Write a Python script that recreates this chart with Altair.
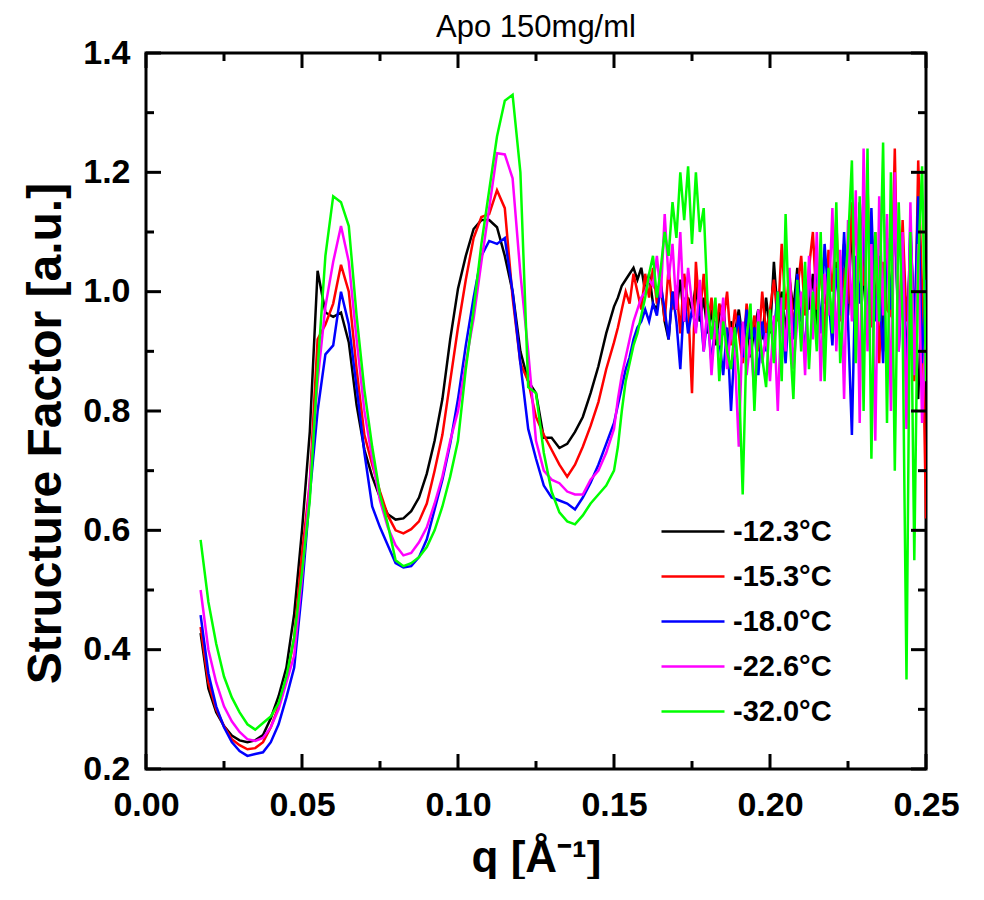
import altair as alt
import pandas as pd

chart_title = "Apo 150mg/ml"
x_title = "q [Å⁻¹]"
y_title = "Structure Factor [a.u.]"
series_names = ["-12.3°C", "-15.3°C", "-18.0°C", "-22.6°C", "-32.0°C"]
series_colors = ["#000000", "#FF0000", "#0000FF", "#FF00FF", "#00FF00"]

# sampling grid of q (coarse part, then finer part where the data get noisy)
q_coarse = [round(0.0175 + 0.0025 * i, 5) for i in range(54)]
q_fine = [round(0.15125 + 0.00125 * i, 5) for i in range(80)]
q_values = q_coarse + q_fine

s_m123 = [
    0.428, 0.335, 0.295, 0.272, 0.256, 0.248, 0.245, 0.248, 0.257, 0.285,
    0.322, 0.37, 0.46, 0.60, 0.765, 1.035, 0.965, 0.958, 0.965, 0.915,
    0.81, 0.735, 0.69, 0.655, 0.627, 0.618, 0.62, 0.632, 0.655, 0.695,
    0.75, 0.82, 0.92, 1.005, 1.06, 1.105, 1.12, 1.12, 1.108, 1.06,
    1.0, 0.90, 0.85, 0.83, 0.755, 0.755, 0.738, 0.745, 0.765, 0.79,
    0.83, 0.875, 0.93, 0.975,
    0.99, 1.01, 1.02, 1.03, 1.04, 1.02, 1.04, 1.0, 1.03, 0.98,
    0.97, 1.01, 0.95, 0.92, 1.0, 0.97, 1.02, 0.95, 0.99, 0.97,
    1.01, 0.95, 0.99, 0.93, 0.97, 0.91, 0.96, 0.98, 0.90, 0.95,
    0.93, 0.97, 0.92, 0.96, 0.89, 0.94, 0.97, 0.92, 0.99, 0.93,
    1.05, 0.96, 1.0, 0.93, 1.02, 0.97, 1.04, 0.95, 1.01, 0.97,
    1.03, 0.94, 1.06, 0.98, 1.02, 0.93, 1.05, 1.0, 1.08, 0.96,
    1.12, 0.95, 1.15, 1.02, 0.93, 1.1, 0.98, 1.06, 0.9, 1.08,
    0.98, 1.14, 0.92, 1.05, 0.86, 1.1, 0.95, 0.82, 1.0, 0.93,
]
s_m153 = [
    0.438, 0.345, 0.30, 0.272, 0.25, 0.24, 0.233, 0.235, 0.245, 0.27,
    0.305, 0.35, 0.42, 0.56, 0.68, 0.92, 0.945, 0.98, 1.045, 1.0,
    0.87, 0.76, 0.71, 0.665, 0.625, 0.60, 0.595, 0.602, 0.615, 0.645,
    0.70, 0.76, 0.85, 0.94, 1.02, 1.09, 1.125, 1.13, 1.17, 1.14,
    0.99, 0.88, 0.85, 0.79, 0.76, 0.735, 0.71, 0.69, 0.71, 0.74,
    0.775, 0.815, 0.87, 0.915,
    0.94, 0.97, 1.0, 0.98, 1.03, 1.0, 0.97, 1.03, 0.99, 1.04,
    0.98, 1.02, 0.95, 1.04, 0.97, 1.01, 0.93, 1.03, 0.98, 0.83,
    1.05, 0.96, 1.03, 0.94, 0.99, 0.92, 0.98, 0.95, 1.0, 0.91,
    0.97, 0.93, 0.88, 0.98, 0.92, 0.96, 0.9, 1.0, 0.93, 0.97,
    1.02, 0.95, 1.08, 0.97, 1.03, 0.94, 1.0, 1.06, 0.96, 1.04,
    1.1, 0.97, 1.05, 0.92, 1.07, 1.0, 1.12, 0.95, 1.04, 0.98,
    1.15, 0.93, 1.08, 1.01, 1.18, 0.94, 1.1, 0.88, 1.05, 0.97,
    0.96, 1.24, 0.9, 1.12, 0.95, 1.05, 0.85, 1.22, 1.0, 0.62,
]
s_m180 = [
    0.458, 0.36, 0.305, 0.27, 0.245, 0.23, 0.222, 0.225, 0.228, 0.245,
    0.275, 0.32, 0.37, 0.50, 0.66, 0.80, 0.895, 0.91, 1.0, 0.945,
    0.84, 0.73, 0.64, 0.605, 0.575, 0.545, 0.538, 0.54, 0.555, 0.585,
    0.635, 0.685, 0.745, 0.82, 0.91, 0.99, 1.06, 1.085, 1.08, 1.09,
    1.0, 0.88, 0.77, 0.72, 0.675, 0.655, 0.65, 0.645, 0.635, 0.655,
    0.68, 0.71, 0.745, 0.78,
    0.81, 0.84, 0.87, 0.89, 0.92, 0.94, 0.95, 0.97, 0.95, 0.98,
    0.96, 1.01, 0.97, 0.92, 1.0, 0.95, 0.87, 0.99, 0.93, 0.97,
    0.94, 0.98, 0.9, 0.96, 0.88, 0.95, 0.92, 0.86, 0.94, 0.8,
    0.92, 0.96, 0.89, 0.97, 0.91, 0.94, 0.86, 0.95, 0.9, 0.96,
    0.93, 1.0, 0.95, 0.88, 0.99, 0.92, 1.03, 0.96, 0.9, 1.02,
    0.97, 1.05, 0.93, 1.08, 0.99, 0.91, 1.04, 0.96, 1.1, 0.95,
    0.76, 1.06, 0.98, 1.12, 0.92, 1.14, 0.95, 1.03, 0.88, 1.09,
    0.97, 1.15, 0.9, 1.06, 0.84, 1.12, 0.93, 1.16, 0.88, 1.02,
]
s_m226 = [
    0.50, 0.40, 0.345, 0.305, 0.28, 0.262, 0.25, 0.247, 0.252, 0.27,
    0.30, 0.345, 0.39, 0.52, 0.68, 0.85, 0.975, 1.05, 1.11, 1.05,
    0.92, 0.80, 0.72, 0.65, 0.605, 0.575, 0.558, 0.562, 0.58, 0.605,
    0.645, 0.69, 0.75, 0.80, 0.88, 0.955, 1.05, 1.14, 1.232, 1.23,
    1.19, 1.03, 0.90, 0.75, 0.70, 0.685, 0.679, 0.665, 0.66, 0.66,
    0.685, 0.70, 0.73, 0.77,
    0.82, 0.86, 0.89, 0.92, 0.95, 0.97, 0.99, 1.0, 1.02, 1.01,
    1.06, 0.99, 1.13, 1.02, 1.08, 0.97, 1.1, 0.95, 1.04, 0.98,
    0.93, 1.02, 0.9, 0.98, 0.86, 0.95, 0.91, 0.99, 0.87, 0.94,
    0.89, 0.74, 0.95, 0.86, 0.92, 0.83, 0.97, 0.88, 0.93, 0.85,
    0.96, 0.8, 0.99, 0.9, 1.04, 0.87, 0.95, 1.0, 0.86, 1.06,
    0.92, 1.1, 0.85, 1.03, 0.96, 1.14, 0.9, 1.07, 0.82, 1.12,
    0.95, 1.17, 0.78, 1.24, 0.9, 1.08, 0.75, 1.16, 0.96, 1.13,
    0.8, 1.2, 0.9, 1.1, 0.77, 1.15, 0.86, 1.08, 0.78, 0.95,
]
s_m320 = [
    0.584, 0.48, 0.41, 0.355, 0.32, 0.295, 0.275, 0.266, 0.277, 0.288,
    0.31, 0.355, 0.42, 0.53, 0.65, 0.87, 1.06, 1.16, 1.15, 1.11,
    0.96, 0.835, 0.74, 0.66, 0.61, 0.55, 0.54, 0.545, 0.555, 0.572,
    0.60, 0.64, 0.69, 0.75, 0.87, 0.97, 1.08, 1.17, 1.26, 1.32,
    1.33, 1.20, 0.84, 0.83, 0.73, 0.665, 0.63, 0.615, 0.61, 0.625,
    0.645, 0.66, 0.675, 0.70,
    0.74, 0.80, 0.85, 0.88, 0.91, 0.93, 0.96, 0.99, 1.03, 1.06,
    0.99, 1.04, 1.1, 1.06, 1.15, 1.09, 1.2, 1.12, 1.21, 1.08,
    1.2, 1.1, 1.14, 0.98, 0.92, 0.99, 0.85, 0.95, 0.9, 0.87,
    0.94, 0.86, 0.66, 0.92, 0.98, 0.8, 0.95, 0.89, 0.84, 0.97,
    0.88, 1.0, 0.85, 1.13, 0.93, 0.82, 1.02, 0.9, 1.05, 0.87,
    1.0, 0.9, 1.1, 0.85, 1.04, 0.93, 1.15, 0.88, 0.99, 1.08,
    1.22, 0.88, 1.16, 0.8, 1.24, 0.72, 1.1, 0.95, 1.25, 0.78,
    1.2, 0.7, 1.15, 0.95, 0.35, 1.1, 0.55, 1.05, 1.21, 0.85,
]
series_values = [s_m123, s_m153, s_m180, s_m226, s_m320]

x_major = [0.0, 0.05, 0.10, 0.15, 0.20, 0.25]
x_minor = [0.025, 0.075, 0.125, 0.175, 0.225]
y_major = [0.2, 0.4, 0.6, 0.8, 1.0, 1.2, 1.4]
y_minor = [0.3, 0.5, 0.7, 0.9, 1.1, 1.3]

rows = []
for name, vals in zip(series_names, series_values):
    for q, s in zip(q_values, vals):
        rows.append({"q": q, "S": s, "T": name})
df = pd.DataFrame(rows)

W, H = 780, 716
FONT = "Liberation Sans"
xs = alt.Scale(domain=[0, 0.25], nice=False, zero=False)
ys = alt.Scale(domain=[0.2, 1.4], nice=False, zero=False)

x_axis = alt.Axis(
    values=x_major, format=".2f", title=x_title, ticks=False, domain=False, grid=False,
    labelFontSize=34, labelFontWeight="bold", labelFont=FONT, labelColor="black",
    labelPadding=19, labelFlush=False, labelOverlap=False,
    titleFontSize=44, titleFontWeight="bold", titleFont=FONT, titleColor="black",
    titlePadding=14)
y_axis = alt.Axis(
    values=y_major, format=".1f", title=y_title, ticks=False, domain=False, grid=False,
    labelFontSize=34, labelFontWeight="bold", labelFont=FONT, labelColor="black",
    labelPadding=16, labelFlush=False, labelOverlap=False,
    titleFontSize=48, titleFontWeight="bold", titleFont=FONT, titleColor="black",
    titlePadding=12, titleY=380)

lines = alt.Chart(df).mark_line(strokeWidth=2.5, clip=True).encode(
    x=alt.X("q:Q", scale=xs, axis=x_axis),
    y=alt.Y("S:Q", scale=ys, axis=y_axis),
    color=alt.Color("T:N", scale=alt.Scale(domain=series_names, range=series_colors),
                    legend=alt.Legend(
                        title=None, orient="none", legendX=514, legendY=456,
                        symbolType="stroke", symbolSize=3969, symbolStrokeWidth=2.5,
                        clipHeight=45, rowPadding=0, labelOffset=7,
                        labelFontSize=29, labelFontWeight="bold", labelFont=FONT,
                        labelColor="black")),
)


def tick_layer(values, field_ch, length, side):
    d = pd.DataFrame({"q": values, "S": values})
    base = alt.Chart(d).mark_rule(color="black", strokeWidth=3)
    if field_ch == "x":
        enc = dict(x=alt.X("q:Q", scale=xs, axis=x_axis))
        if side == "bottom":
            enc.update(y=alt.value(H), y2=alt.value(H - length))
        else:
            enc.update(y=alt.value(0), y2=alt.value(length))
    else:
        enc = dict(y=alt.Y("S:Q", scale=ys, axis=y_axis))
        if side == "left":
            enc.update(x=alt.value(0), x2=alt.value(length))
        else:
            enc.update(x=alt.value(W), x2=alt.value(W - length))
    return base.encode(**enc)


ticks = [
    tick_layer(x_major, "x", 15, "bottom"), tick_layer(x_minor, "x", 8, "bottom"),
    tick_layer(x_major, "x", 15, "top"), tick_layer(x_minor, "x", 8, "top"),
    tick_layer(y_major, "y", 15, "left"), tick_layer(y_minor, "y", 8, "left"),
    tick_layer(y_major, "y", 15, "right"), tick_layer(y_minor, "y", 8, "right"),
]

chart = alt.layer(lines, *ticks).properties(
    width=W, height=H,
    title=alt.TitleParams(chart_title, fontSize=31, font=FONT, fontWeight="normal",
                          color="black", anchor="middle", offset=-8),
    padding={"left": 138, "top": 45, "right": 40, "bottom": 110},
    autosize=alt.AutoSizeParams(type="none"),
).configure_view(stroke="black", strokeWidth=3)

chart.save("out.html", embed_options={"renderer": "svg", "actions": False})
